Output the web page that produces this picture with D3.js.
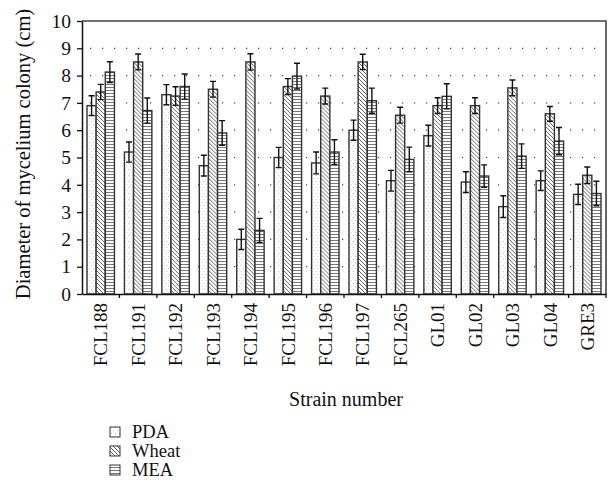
<!DOCTYPE html>
<html><head><meta charset="utf-8">
<script src="https://cdn.jsdelivr.net/npm/d3@7"></script>
<style>body{margin:0;background:#fff}svg{display:block}</style>
</head><body>
<svg id="c" width="608" height="496"></svg>
<script>
const categories = ["FCL188","FCL191","FCL192","FCL193","FCL194","FCL195","FCL196","FCL197","FCL265","GL01","GL02","GL03","GL04","GRE3"];
const seriesNames = ["PDA","Wheat","MEA"];
const pda   = [6.9,5.2,7.3,4.7,2.0,5.0,4.8,6.0,4.15,5.8,4.1,3.2,4.15,3.65];
const wheat = [7.4,8.5,7.25,7.5,8.5,7.6,7.25,8.5,6.55,6.9,6.9,7.55,6.6,4.35];
const mea   = [8.13,6.72,7.6,5.9,2.33,7.98,5.2,7.08,4.93,7.24,4.32,5.05,5.6,3.68];
const pdaErr   = [0.36,0.37,0.37,0.38,0.37,0.37,0.40,0.37,0.38,0.38,0.38,0.40,0.36,0.37];
const wheatErr = [0.28,0.29,0.34,0.29,0.30,0.29,0.29,0.28,0.29,0.29,0.29,0.29,0.27,0.30];
const meaErr   = [0.38,0.46,0.46,0.45,0.44,0.47,0.45,0.46,0.45,0.46,0.41,0.45,0.50,0.45];
const yTicks = [0,1,2,3,4,5,6,7,8,9,10];
const yTitle = "Diameter of mycelium colony (cm)";
const xTitle = "Strain number";

const values = [pda, wheat, mea];
const errs = [pdaErr, wheatErr, meaErr];
const svg = d3.select("#c");
const font = "'Liberation Serif','DejaVu Serif',serif";
const L = 82, R = 606, T = 21, B = 294;

const defs = svg.append("defs");
const p0 = defs.append("pattern").attr("id","pat0").attr("patternUnits","userSpaceOnUse").attr("width",4).attr("height",6);
p0.append("rect").attr("width",4).attr("height",6).attr("fill","#fff");
p0.append("rect").attr("x",1).attr("y",1).attr("width",1).attr("height",1).attr("fill","#bbb");
p0.append("rect").attr("x",3).attr("y",4).attr("width",1).attr("height",1).attr("fill","#ccc");
const p1 = defs.append("pattern").attr("id","pat1").attr("patternUnits","userSpaceOnUse").attr("width",4).attr("height",4);
p1.append("rect").attr("width",4).attr("height",4).attr("fill","#fff");
p1.append("path").attr("d","M-1,-1L5,5M-1,3L1,5M3,-1L5,1").attr("stroke","#555").attr("stroke-width",0.9);
const p2 = defs.append("pattern").attr("id","pat2").attr("patternUnits","userSpaceOnUse").attr("width",4).attr("height",3);
p2.append("rect").attr("width",4).attr("height",3).attr("fill","#fff");
p2.append("rect").attr("y",0).attr("width",4).attr("height",1).attr("fill","#777");

const x0 = d3.scaleBand().domain(categories).range([L, R]).padding(0);
const x1 = d3.scaleBand().domain(seriesNames).range([5, x0.bandwidth()-5]).padding(0);
const y = d3.scaleLinear().domain([0,10]).range([B, T]);

svg.append("g").selectAll("line").data(yTicks.filter(d => d>0 && d<10)).join("line")
  .attr("x1", L+8).attr("x2", R).attr("y1", d=>y(d)).attr("y2", d=>y(d))
  .attr("stroke","#444").attr("stroke-width",1.2).attr("stroke-dasharray","1.2,10.8");

svg.append("path").attr("d",`M${L},${y(10)}H${R}V${B}`).attr("fill","none").attr("stroke","#444").attr("stroke-width",1.6);

const groups = svg.append("g").selectAll("g").data(categories).join("g")
  .attr("transform", d => `translate(${x0(d)},0)`);
seriesNames.forEach((s, si) => {
  groups.append("rect")
    .attr("x", x1(s)).attr("width", x1.bandwidth())
    .attr("y", (d,i) => y(values[si][i])).attr("height", (d,i) => B - y(values[si][i]))
    .attr("fill", `url(#pat${si})`).attr("stroke","#333").attr("stroke-width",1.4);
});
seriesNames.forEach((s, si) => {
  const cx = x1(s) + x1.bandwidth()/2;
  groups.append("path")
    .attr("d", (d,i) => {
      const v = values[si][i], e = errs[si][i];
      const t = y(v+e), b = y(v-e);
      return `M${cx-3},${t}H${cx+3}M${cx},${t}V${b}M${cx-3},${b}H${cx+3}`;
    })
    .attr("fill","none").attr("stroke","#111").attr("stroke-width",1.4);
});

const ya = svg.append("g").attr("transform",`translate(${L},0)`)
  .call(d3.axisLeft(y).tickValues(yTicks).tickSize(5).tickPadding(6).tickSizeOuter(0));
ya.select(".domain").attr("stroke","#111").attr("stroke-width",1.5);
ya.selectAll(".tick line").attr("stroke","#111").attr("stroke-width",1.3);
ya.selectAll("text").attr("font-family",font).attr("font-size",19.5).attr("fill","#111");

const xa = svg.append("g").attr("transform",`translate(0,${B})`)
  .call(d3.axisBottom(x0).tickSize(0).tickPadding(0).tickSizeOuter(0));
xa.select(".domain").attr("stroke","#111").attr("stroke-width",1.5);
xa.selectAll(".tick line").remove();
xa.selectAll("text").attr("font-family",font).attr("font-size",19).attr("fill","#111")
  .attr("transform","rotate(-90)").attr("text-anchor","end").attr("x",-9).attr("y",0).attr("dy","0.35em");
svg.append("g").selectAll("line").data(categories.slice(1).concat(["__end"])).join("line")
  .attr("x1", d => d==="__end" ? R : x0(d)).attr("x2", d => d==="__end" ? R : x0(d))
  .attr("y1", B).attr("y2", B+4).attr("stroke","#111").attr("stroke-width",1.3);

svg.append("text").attr("transform",`translate(23,${(8+300)/2}) rotate(-90)`)
  .attr("text-anchor","middle").attr("dy","0.35em").attr("font-family",font).attr("font-size",20.5).attr("fill","#111").text(yTitle);
svg.append("text").attr("x",346).attr("y",399).attr("text-anchor","middle").attr("dy","0.35em")
  .attr("font-family",font).attr("font-size",20).attr("fill","#111").text(xTitle);

const lg = svg.append("g").selectAll("g").data(seriesNames).join("g")
  .attr("transform",(d,i)=>`translate(110,${432 + i*19})`);
lg.append("rect").attr("x",0).attr("y",-5).attr("width",10).attr("height",10)
  .attr("fill",(d,i)=>`url(#pat${i})`).attr("stroke","#333").attr("stroke-width",1);
lg.append("text").attr("x",22).attr("y",0).attr("dy","0.35em").attr("font-family",font).attr("font-size",18.5).attr("fill","#111").text(d=>d);
</script>
</body></html>
